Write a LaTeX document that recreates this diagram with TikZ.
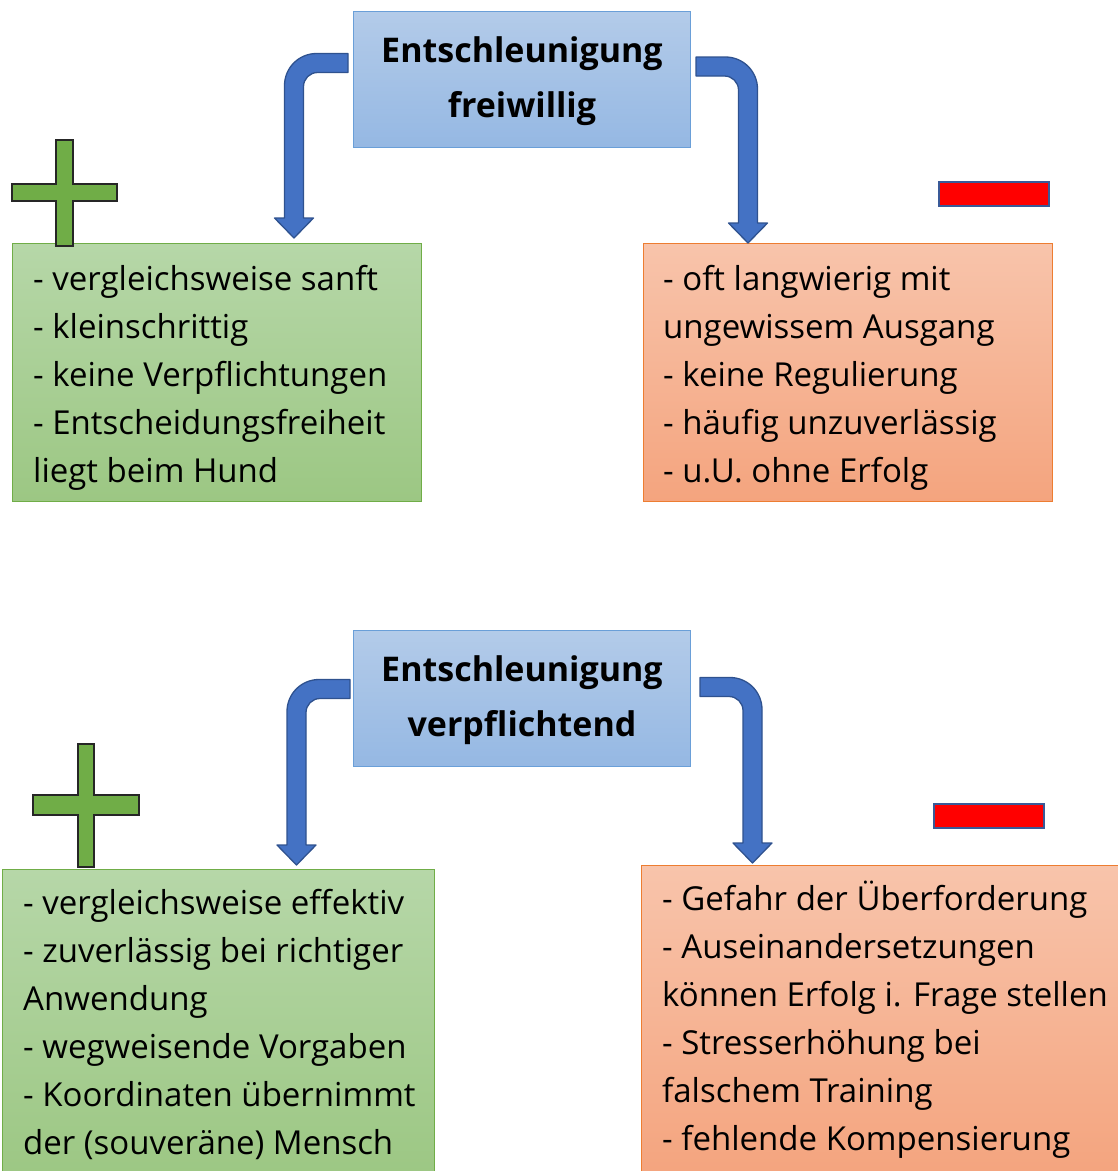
\documentclass[tikz,border=0pt]{standalone}
\usepackage{fontspec}
\setmainfont{Open Sans}
\usetikzlibrary{calc}
\definecolor{arrowfill}{HTML}{4472C4}
\definecolor{arrowline}{HTML}{2F528F}
\definecolor{titletop}{HTML}{B3CBE9}
\definecolor{titlebot}{HTML}{95B8E3}
\definecolor{titleline}{HTML}{6A9FD8}
\definecolor{greentop}{HTML}{B6D7A8}
\definecolor{greenbot}{HTML}{9CC783}
\definecolor{greenline}{HTML}{70AD47}
\definecolor{orangetop}{HTML}{F8C4AB}
\definecolor{orangebot}{HTML}{F4A47E}
\definecolor{orangeline}{HTML}{ED7D31}
\definecolor{plusfill}{HTML}{70AD47}
\definecolor{minusline}{HTML}{3A5A98}

\newcommand\arrowLeftDown[2]{%
  \filldraw[blockarrow] let \p1=(#1), \p2=(#2) in
  (\x1,\y1+9.5pt) -- (\x2-9.5pt+32pt,\y1+9.5pt)
  arc[start angle=90,end angle=180,radius=32pt]
  -- (\x2-9.5pt,\y2+20pt) -- (\x2-19.5pt,\y2+20pt) -- (\x2,\y2)
  -- (\x2+19.5pt,\y2+20pt) -- (\x2+9.5pt,\y2+20pt)
  -- (\x2+9.5pt,\y1-9.5pt-14pt)
  arc[start angle=180,end angle=90,radius=14pt]
  -- (\x1,\y1-9.5pt) -- cycle;}
\newcommand\arrowRightDown[2]{%
  \filldraw[blockarrow] let \p1=(#1), \p2=(#2) in
  (\x1,\y1+9.5pt) -- (\x2+9.5pt-32pt,\y1+9.5pt)
  arc[start angle=90,end angle=0,radius=32pt]
  -- (\x2+9.5pt,\y2+20pt) -- (\x2+19.5pt,\y2+20pt) -- (\x2,\y2)
  -- (\x2-19.5pt,\y2+20pt) -- (\x2-9.5pt,\y2+20pt)
  -- (\x2-9.5pt,\y1-9.5pt-14pt)
  arc[start angle=0,end angle=90,radius=14pt]
  -- (\x1,\y1-9.5pt) -- cycle;}

\begin{document}
\begin{tikzpicture}[x=1pt,y=-1pt,
  titlebox/.style={draw=titleline, line width=1pt, top color=titletop, bottom color=titlebot,
    minimum width=337pt, minimum height=136pt, anchor=north west, inner sep=0pt,
    align=center, font=\fontsize{34}{55}\selectfont\bfseries},
  greenbox/.style={draw=greenline, line width=1.2pt, top color=greentop, bottom color=greenbot,
    anchor=north west, inner sep=0pt},
  orangebox/.style={draw=orangeline, line width=1.2pt, top color=orangetop, bottom color=orangebot,
    anchor=north west, inner sep=0pt},
  txt/.style={anchor=base west, inner sep=0pt, font=\fontsize{33}{48}\selectfont},
  blockarrow/.style={fill=arrowfill, draw=arrowline, line width=1.3pt, line join=round},
  plussign/.style={fill=plusfill, draw=black!85, line width=1.8pt},
  minussign/.style={fill=red, draw=minusline, line width=2.6pt}]
\useasboundingbox (0,0) rectangle (1118,1171);

% ---------- top section ----------
\node[titlebox] (t1) at (353,11) {\rule{0pt}{30pt}Entschleunigung\\freiwillig};
\node[greenbox, minimum width=409pt, minimum height=258pt] (g1) at (12,243) {};
\node[orangebox, minimum width=409pt, minimum height=258pt] (o1) at (643,243) {};

\foreach \t [count=\i] in {- vergleichsweise sanft, - kleinschrittig, - keine Verpflichtungen,
  - Entscheidungsfreiheit, liegt beim Hund}
  \node[txt] (g1-\i) at (33,{290+48*(\i-1)}) {\t};
\foreach \t [count=\i] in {- oft langwierig mit, ungewissem Ausgang, - keine Regulierung,
  - häufig unzuverlässig, - u.U. ohne Erfolg}
  \node[txt] (o1-\i) at (663,{290+48*(\i-1)}) {\t};

\coordinate (a1s) at ($(t1.west)+(-5,-16.5)$);
\coordinate (a1t) at ($(g1.north -| 294,0)+(0,-5)$);
\coordinate (a2s) at ($(t1.east)+(5,-13)$);
\coordinate (a2t) at ($(o1.north -| 748,0)+(0,0)$);
\arrowLeftDown{a1s}{a1t}
\arrowRightDown{a2s}{a2t}

\draw[plussign] (56,140) -- (73,140) -- (73,184) -- (117,184) -- (117,201) -- (73,201)
  -- (73,246) -- (56,246) -- (56,201) -- (12,201) -- (12,184) -- (56,184) -- cycle;
\draw[minussign] (939,182) rectangle (1049,206);

% ---------- bottom section ----------
\node[titlebox] (t2) at (353,630) {\rule{0pt}{30pt}Entschleunigung\\verpflichtend};
\node[greenbox, minimum width=432pt, minimum height=310pt] (g2) at (2,869) {};
\node[orangebox, minimum width=485pt, minimum height=310pt] (o2) at (641,865) {};

\foreach \t [count=\i] in {- vergleichsweise effektiv, - zuverlässig bei richtiger, Anwendung,
  - wegweisende Vorgaben, - Koordinaten übernimmt, der (souveräne) Mensch}
  \node[txt] (g2-\i) at (23,{914+48*(\i-1)}) {\t};
\foreach \t [count=\i] in {- Gefahr der Überforderung, - Auseinandersetzungen,
  können Erfolg i. Frage stellen, - Stresserhöhung bei, falschem Training,
  - fehlende Kompensierung}
  \node[txt] (o2-\i) at (662,{910+48*(\i-1)}) {\t};

\coordinate (b1s) at ($(t2.west)+(-3,-9.5)$);
\coordinate (b1t) at ($(g2.north -| 296.5,0)+(0,-4)$);
\coordinate (b2s) at ($(t2.east)+(9,-11.5)$);
\coordinate (b2t) at ($(o2.north -| 752.5,0)+(0,-2)$);
\arrowLeftDown{b1s}{b1t}
\arrowRightDown{b2s}{b2t}

\draw[plussign] (78,744) -- (94,744) -- (94,795) -- (139,795) -- (139,815) -- (94,815)
  -- (94,867) -- (78,867) -- (78,815) -- (33,815) -- (33,795) -- (78,795) -- cycle;
\draw[minussign] (934,804) rectangle (1044,828);
\end{tikzpicture}
\end{document}
